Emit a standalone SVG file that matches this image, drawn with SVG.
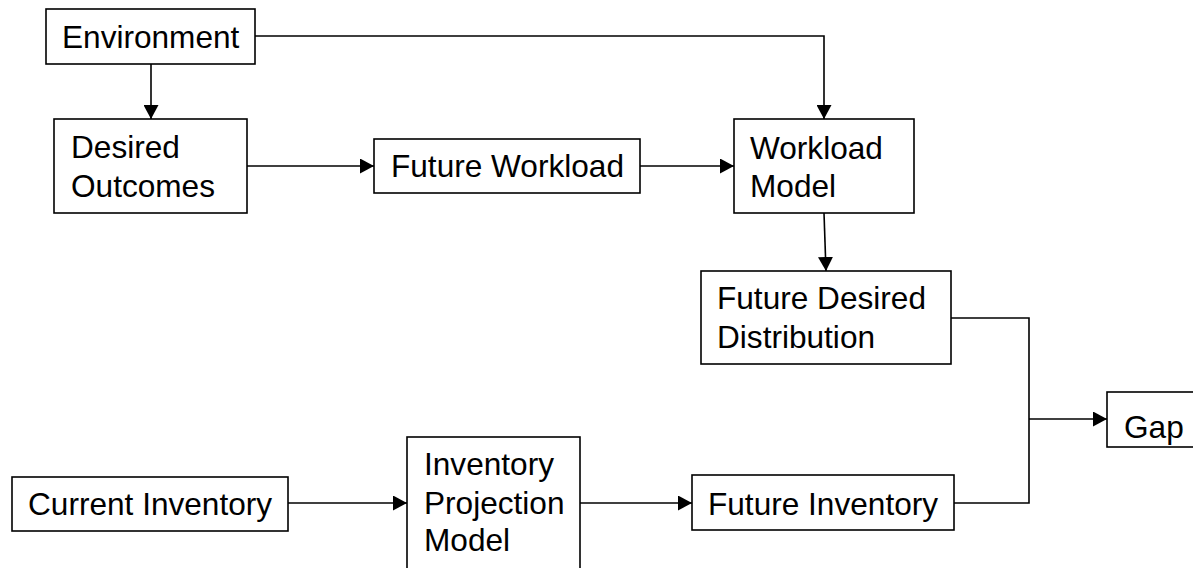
<svg xmlns="http://www.w3.org/2000/svg" width="1193" height="568" viewBox="0 0 1193 568">
  <style>
    .box { fill: #ffffff; stroke: #000000; stroke-width: 1.6; }
    .lbl { font-family: "Liberation Sans", Arial, sans-serif; font-size: 31.6px; fill: #000000; }
    .wire { fill: none; stroke: #000000; stroke-width: 1.6; }
  </style>
  <defs>
    <marker id="arrow" viewBox="0 0 14 15" refX="14" refY="7.5" markerWidth="14" markerHeight="15" markerUnits="userSpaceOnUse" orient="auto">
      <path d="M0,0 L14,7.5 L0,15 Z" fill="#000000"/>
    </marker>
  </defs>
  <rect width="1193" height="568" fill="#ffffff"/>

  <!-- connectors -->
  <g id="connectors">
    <path class="wire" d="M151,64 V119" marker-end="url(#arrow)"/>
    <path class="wire" d="M255,36 H824 V119" marker-end="url(#arrow)"/>
    <path class="wire" d="M247,166 H374" marker-end="url(#arrow)"/>
    <path class="wire" d="M640,166 H734" marker-end="url(#arrow)"/>
    <path class="wire" d="M824,213 L826,271" marker-end="url(#arrow)"/>
    <path class="wire" d="M951,318 H1029 V503 H954"/>
    <path class="wire" d="M1029,419 H1107" marker-end="url(#arrow)"/>
    <path class="wire" d="M288,503 H407" marker-end="url(#arrow)"/>
    <path class="wire" d="M580,503 H692" marker-end="url(#arrow)"/>
  </g>

  <g id="environment">
    <rect class="box" x="46" y="9" width="209" height="55"/>
    <text class="lbl" x="62" y="48">Environment</text>
  </g>

  <g id="desired-outcomes">
    <rect class="box" x="54" y="119" width="193" height="94"/>
    <text class="lbl" x="71" y="158">Desired</text>
    <text class="lbl" x="71" y="197">Outcomes</text>
  </g>

  <g id="future-workload">
    <rect class="box" x="374" y="139" width="266" height="54"/>
    <text class="lbl" x="391" y="177">Future Workload</text>
  </g>

  <g id="workload-model">
    <rect class="box" x="734" y="119" width="180" height="94"/>
    <text class="lbl" x="750" y="159">Workload</text>
    <text class="lbl" x="750" y="197">Model</text>
  </g>

  <g id="future-desired-distribution">
    <rect class="box" x="701" y="271" width="250" height="93"/>
    <text class="lbl" x="717" y="309">Future Desired</text>
    <text class="lbl" x="717" y="348">Distribution</text>
  </g>

  <g id="gap">
    <rect class="box" x="1107" y="392" width="100" height="55"/>
    <text class="lbl" x="1124" y="438">Gap</text>
  </g>

  <g id="current-inventory">
    <rect class="box" x="12" y="477" width="276" height="54"/>
    <text class="lbl" x="28" y="515">Current Inventory</text>
  </g>

  <g id="inventory-projection-model">
    <rect class="box" x="407" y="437" width="173" height="133"/>
    <text class="lbl" x="424" y="475">Inventory</text>
    <text class="lbl" x="424" y="514">Projection</text>
    <text class="lbl" x="424" y="551">Model</text>
  </g>

  <g id="future-inventory">
    <rect class="box" x="692" y="475" width="262" height="55"/>
    <text class="lbl" x="708" y="515">Future Inventory</text>
  </g>
</svg>
